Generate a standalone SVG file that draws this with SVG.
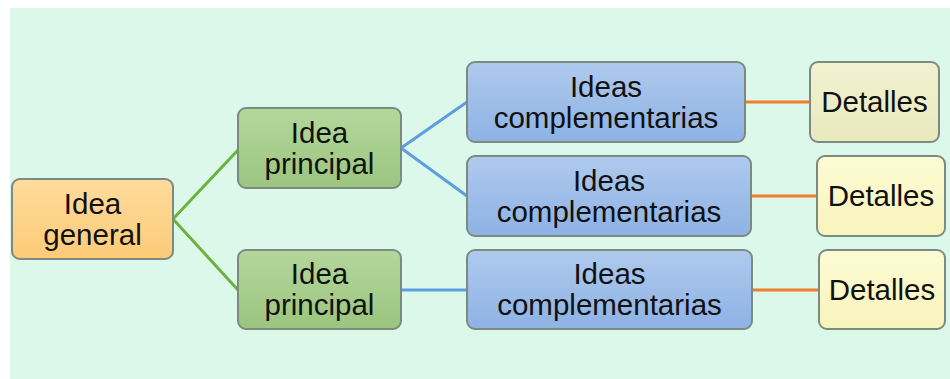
<svg xmlns="http://www.w3.org/2000/svg" width="950" height="379" viewBox="0 0 950 379">
<defs>
<linearGradient id="gOr" x1="0" y1="0" x2="0" y2="1"><stop offset="0" stop-color="#FFDB9C"/><stop offset="1" stop-color="#FCCB78"/></linearGradient>
<linearGradient id="gGr" x1="0" y1="0" x2="0" y2="1"><stop offset="0" stop-color="#B4D79C"/><stop offset="1" stop-color="#9BC57F"/></linearGradient>
<linearGradient id="gBl" x1="0" y1="0" x2="0" y2="1"><stop offset="0" stop-color="#AFCAEE"/><stop offset="1" stop-color="#8DB2E4"/></linearGradient>
<linearGradient id="gY1" x1="0" y1="0" x2="0" y2="1"><stop offset="0" stop-color="#F1F1D0"/><stop offset="1" stop-color="#E9E9BE"/></linearGradient>
<linearGradient id="gY2" x1="0" y1="0" x2="0" y2="1"><stop offset="0" stop-color="#FDFBD4"/><stop offset="1" stop-color="#F8F4BC"/></linearGradient>
</defs>
<style>
.box{stroke:#7D8A80;stroke-width:2}
.t{font-family:"Liberation Sans",Arial,sans-serif;font-size:29.5px;fill:#111;text-anchor:middle}
.cg{stroke:#6CB23E;stroke-width:3;fill:none}
.cb{stroke:#5C9EE0;stroke-width:3;fill:none}
.co{stroke:#EF7F2C;stroke-width:3;fill:none}
</style>
<rect x="0" y="0" width="950" height="379" fill="#FFFFFF"/>
<rect x="10" y="8" width="940" height="371" fill="#DCF8EA"/>
<g id="connectors">
<polyline class="cg" points="238,150 173,219 238,290"/>
<polyline class="cb" points="467,102 401,148 467,196"/>
<line class="cb" x1="401" y1="290" x2="467" y2="290"/>
<line class="co" x1="745" y1="102" x2="810" y2="102"/>
<line class="co" x1="751" y1="196" x2="817" y2="196"/>
<line class="co" x1="752" y1="290" x2="819" y2="290"/>
</g>
<g id="general">
<rect class="box" x="12" y="179" width="161" height="80" rx="8" fill="url(#gOr)"/>
<text class="t" x="92.5" y="214">Idea</text>
<text class="t" x="92.5" y="245">general</text>
</g>
<g id="principal1">
<rect class="box" x="238" y="108" width="163" height="80" rx="8" fill="url(#gGr)"/>
<text class="t" x="319.5" y="143">Idea</text>
<text class="t" x="319.5" y="174">principal</text>
</g>
<g id="principal2">
<rect class="box" x="238" y="250" width="163" height="79" rx="8" fill="url(#gGr)"/>
<text class="t" x="319.5" y="284">Idea</text>
<text class="t" x="319.5" y="315">principal</text>
</g>
<g id="comp1">
<rect class="box" x="467" y="62" width="278" height="80" rx="8" fill="url(#gBl)"/>
<text class="t" x="606" y="97">Ideas</text>
<text class="t" x="606" y="128">complementarias</text>
</g>
<g id="comp2">
<rect class="box" x="467" y="156" width="284" height="80" rx="8" fill="url(#gBl)"/>
<text class="t" x="609" y="191">Ideas</text>
<text class="t" x="609" y="222">complementarias</text>
</g>
<g id="comp3">
<rect class="box" x="467" y="250" width="285" height="79" rx="8" fill="url(#gBl)"/>
<text class="t" x="609.5" y="284">Ideas</text>
<text class="t" x="609.5" y="315">complementarias</text>
</g>
<g id="det1">
<rect class="box" x="810" y="62" width="129" height="80" rx="8" fill="url(#gY1)"/>
<text class="t" x="874.5" y="112">Detalles</text>
</g>
<g id="det2">
<rect class="box" x="817" y="156" width="128" height="80" rx="8" fill="url(#gY2)"/>
<text class="t" x="881" y="206">Detalles</text>
</g>
<g id="det3">
<rect class="box" x="819" y="250" width="126" height="79" rx="8" fill="url(#gY2)"/>
<text class="t" x="882" y="300">Detalles</text>
</g>
</svg>
